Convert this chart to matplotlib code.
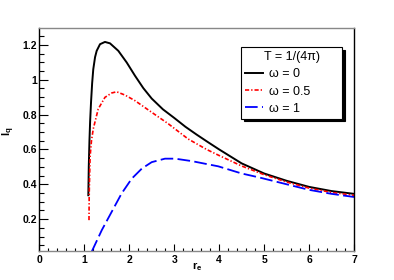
import matplotlib
matplotlib.use("Agg")
import matplotlib.pyplot as plt
from matplotlib.ticker import MultipleLocator

plt.rcParams['font.family'] = ['Liberation Sans', 'DejaVu Sans']
plt.rcParams['mathtext.fontset'] = 'custom'
plt.rcParams['mathtext.rm'] = 'Liberation Sans'
plt.rcParams['mathtext.bf'] = 'Liberation Sans:bold'

# curves
r_w0 = [1.09, 1.10, 1.115, 1.13, 1.15, 1.175, 1.20, 1.24, 1.276, 1.35, 1.46,
        1.572, 1.757, 1.944, 2.128, 2.313, 2.50, 2.75, 3.0, 3.25, 3.5, 3.75,
        4.0, 4.5, 5.0, 5.5, 6.0, 6.5, 7.0]
iq_w0 = [0.337, 0.50, 0.65, 0.76, 0.87, 0.98, 1.06, 1.13, 1.166, 1.204, 1.217,
         1.209, 1.166, 1.099, 1.023, 0.952, 0.892, 0.83, 0.781, 0.730, 0.685, 0.642,
         0.600, 0.52, 0.462, 0.42, 0.385, 0.361, 0.345]

r_w05 = [1.105, 1.11, 1.12, 1.13, 1.16, 1.20, 1.31, 1.46, 1.61, 1.72, 1.906,
         2.128, 2.50, 2.87, 3.31, 3.72, 4.0, 4.5, 5.0, 5.5, 6.0, 6.5, 7.0]
iq_w05 = [0.194, 0.35, 0.46, 0.56, 0.65, 0.718, 0.832, 0.899, 0.924, 0.931, 0.912,
          0.88, 0.813, 0.747, 0.66, 0.60, 0.565, 0.505, 0.455, 0.413, 0.378, 0.353, 0.337]

r_w1 = [1.165, 1.39, 1.61, 1.83, 2.055, 2.28, 2.50, 2.796, 3.02, 3.39, 3.98,
        4.5, 4.91, 5.5, 6.0, 6.5, 7.0]
iq_w1 = [0.013, 0.137, 0.242, 0.347, 0.432, 0.49, 0.527, 0.547, 0.547, 0.533, 0.503,
         0.462, 0.438, 0.40, 0.368, 0.345, 0.327]

labels = ['\u03c9 = 0', '\u03c9 = 0.5', '\u03c9 = 1']
legend_title = 'T = 1/(4\u03c0)'

fig = plt.figure(figsize=(3.94, 2.80), dpi=100)
ax = fig.add_axes([0.0998, 0.1036, 0.7987, 0.7964])

ax.plot(r_w0, iq_w0, color='black', lw=1.4, label=labels[0])
ax.plot(r_w05, iq_w05, color='red', lw=1.2,
        linestyle=(0, (2.5, 1.2, 0.8, 1.2)), label=labels[1])
ax.plot(r_w1, iq_w1, color='blue', lw=1.3,
        linestyle=(0, (7, 2.4)), label=labels[2])

ax.set_xlim(0, 7)
ax.set_ylim(0.017, 1.297)

ax.xaxis.set_major_locator(MultipleLocator(1))
ax.xaxis.set_minor_locator(MultipleLocator(0.2))
ax.yaxis.set_minor_locator(MultipleLocator(0.05))
ax.set_yticks([0.2, 0.4, 0.6, 0.8, 1.0, 1.2])
ax.set_yticklabels(['0.2', '0.4', '0.6', '0.8', '1', '1.2'])

ax.tick_params(axis='x', which='major', direction='in', length=4.8, width=0.8,
               pad=3, labelsize=7.5)
ax.tick_params(axis='x', which='minor', direction='in', length=2.4, width=0.8)
ax.tick_params(axis='y', which='major', direction='in', length=6.8, width=0.8,
               pad=1.5, labelsize=7.5)
ax.tick_params(axis='y', which='minor', direction='in', length=3.4, width=0.8)
for lab in ax.get_xticklabels() + ax.get_yticklabels():
    lab.set_fontweight('bold')

ax.spines['left'].set_color('black')
ax.spines['right'].set_color('black')
ax.spines['top'].set_color('#888888')
ax.spines['bottom'].set_color('#888888')
for s in ax.spines.values():
    s.set_linewidth(1.0)

# axis titles placed like ROOT does
fig.text(9 / 394, 1 - 131 / 280, r'$\mathbf{I_q}$', fontsize=8, rotation=90,
         ha='center', va='center')
fig.text(197 / 394, 1 - 267 / 280, r'$\mathbf{r_e}$', fontsize=8,
         ha='center', va='center')

leg = ax.legend(title=legend_title, loc='upper left',
                bbox_to_anchor=(0.6117, 0.5, 0.2563, 0.331),
                bbox_transform=fig.transFigure, mode='expand', borderaxespad=0,
                fontsize=9, title_fontsize=9, frameon=True, fancybox=False,
                edgecolor='black', framealpha=1, handlelength=1.45,
                handletextpad=0.5, labelspacing=0.42, borderpad=0.3,
                shadow={'color': 'black', 'alpha': 1})
leg.get_frame().set_linewidth(0.8)

fig.savefig('out.png', dpi=100)
